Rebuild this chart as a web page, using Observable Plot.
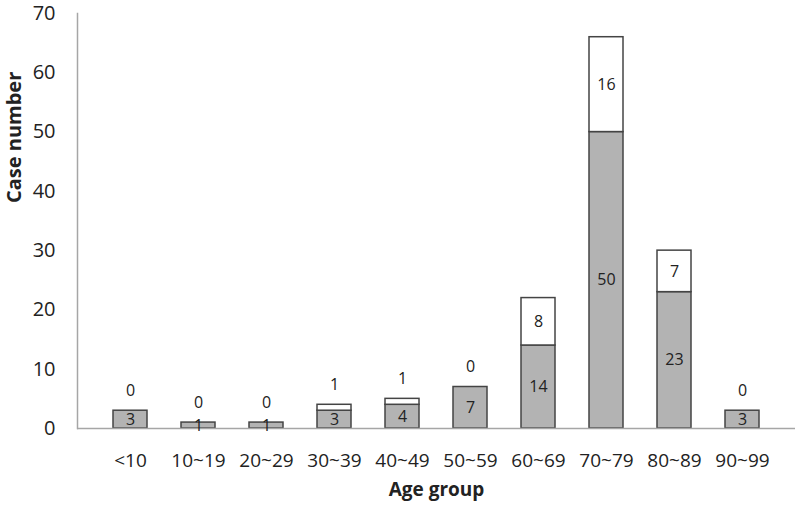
<!DOCTYPE html>
<html><head><meta charset="utf-8">
<script src="https://cdn.jsdelivr.net/npm/d3@7"></script>
<script src="https://cdn.jsdelivr.net/npm/@observablehq/plot@0.6"></script>
<style>body{margin:0;background:#fff;}svg{font-family:"Open Sans",sans-serif;}</style>
</head><body><div id="chart"></div>
<script>
const ageGroups = ["<10","10~19","20~29","30~39","40~49","50~59","60~69","70~79","80~89","90~99"];
const greyValues = [3,1,1,3,4,7,14,50,23,3];
const whiteValues = [0,0,0,1,1,0,8,16,7,0];
const yTicks = [0,10,20,30,40,50,60,70];

const rows = [];
ageGroups.forEach((g,i)=>{
  rows.push({group:g, part:"a", value:greyValues[i]});
  rows.push({group:g, part:"b", value:whiteValues[i]});
});
const greyLabels = ageGroups.map((g,i)=>({group:g, y:greyValues[i]/2, v:greyValues[i]}));
const whiteInside = ageGroups.map((g,i)=>({group:g, y:greyValues[i]+whiteValues[i]/2, v:whiteValues[i]})).filter(d=>d.v>=5);
const whiteAbove = ageGroups.map((g,i)=>({group:g, y:greyValues[i]+whiteValues[i], v:whiteValues[i]})).filter(d=>d.v<5);

const chart = Plot.plot({
  width: 800, height: 507,
  marginLeft: 77, marginRight: 5, marginTop: 13, marginBottom: 79,
  style: {fontSize: "16px", color: "#222", fontFamily: "Open Sans, sans-serif"},
  x: {domain: ageGroups, padding: 0.5, label: null},
  y: {domain: [0,70], label: null},
  color: {domain:["a","b"], range:["#b3b3b3","#ffffff"]},
  marks: [
    Plot.barY(rows, Plot.stackY({x:"group", y:"value", fill:"part", order:["a","b"], stroke:"#444", strokeWidth:1.5})),
    Plot.ruleY([0], {stroke:"#a6a6a6", strokeWidth:1.5}),
    Plot.frame({anchor:"left", stroke:"#a6a6a6", strokeWidth:1.5}),
    Plot.axisY(yTicks, {tickSize:0, tickPadding:22, fontSize:20, label:null}),
    Plot.axisX({tickSize:0, tickPadding:25, fontSize:19, label:null}),
    Plot.text(greyLabels, {x:"group", y:"y", text:"v", fontSize:16, fill:"#222"}),
    Plot.text(whiteInside, {x:"group", y:"y", text:"v", fontSize:16, fill:"#222"}),
    Plot.text(whiteAbove, {x:"group", y:"y", text:"v", fontSize:16, fill:"#222", dy:-20}),
    Plot.text(["Age group"], {frameAnchor:"bottom", dy:67, fontSize:19, fontWeight:"bold", fill:"#222"}),
    Plot.text(["Case number"], {frameAnchor:"left", dx:-63, dy:-18, rotate:-90, fontSize:20, fontWeight:"bold", fill:"#222"})
  ]
});
document.getElementById("chart").append(chart);
</script>
</body></html>
